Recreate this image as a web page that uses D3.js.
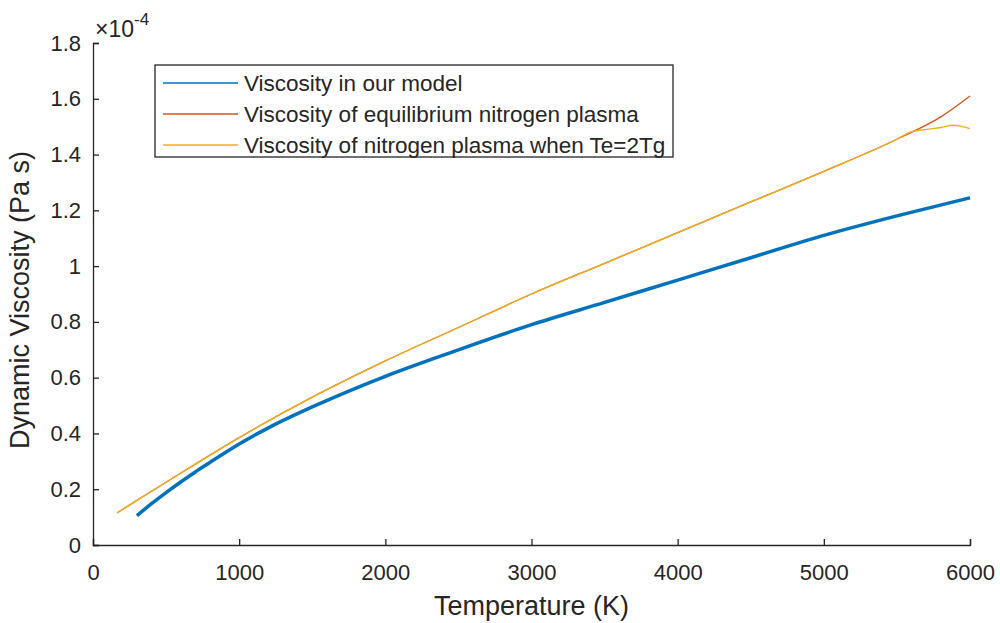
<!DOCTYPE html>
<html>
<head>
<meta charset="utf-8">
<script src="https://cdn.jsdelivr.net/npm/d3@7"></script>
<style>
  body { margin: 0; background: #fff; }
  text { font-family: "Liberation Sans", Arial, sans-serif; fill: #262626; }
</style>
</head>
<body>
<div id="chart"></div>
<script>
// values (viscosity in units of 1e-4 Pa s)
var modelT = [300, 400, 500, 600, 700, 800, 1000, 1200, 1500, 2000, 2500, 3000, 3500, 4000, 4500, 5000, 5500, 6000];
var modelV = [0.105, 0.148, 0.188, 0.226, 0.262, 0.296, 0.362, 0.42, 0.495, 0.605, 0.70, 0.79, 0.87, 0.95, 1.03, 1.11, 1.18, 1.245];

var equilT = [165, 300, 500, 700, 1000, 1500, 2000, 2500, 3000, 3500, 4000, 4500, 5000, 5500, 5800, 6000];
var equilV = [0.115, 0.16, 0.225, 0.29, 0.385, 0.53, 0.66, 0.78, 0.90, 1.01, 1.12, 1.23, 1.34, 1.455, 1.535, 1.61];

var twoTT = [165, 300, 500, 700, 1000, 1500, 2000, 2500, 3000, 3500, 4000, 4500, 5000, 5500, 5600, 5700, 5800, 5880, 5950, 6000];
var twoTV = [0.115, 0.16, 0.225, 0.29, 0.385, 0.53, 0.66, 0.78, 0.90, 1.01, 1.12, 1.23, 1.34, 1.455, 1.482, 1.49, 1.497, 1.505, 1.50, 1.493];

var seriesNames = ["Viscosity in our model", "Viscosity of equilibrium nitrogen plasma", "Viscosity of nitrogen plasma when Te=2Tg"];
var seriesColors = ["#0072BD", "#D95319", "#EDB120"];

var xTicks = [0, 1000, 2000, 3000, 4000, 5000, 6000];
var yTicks = [0, 0.2, 0.4, 0.6, 0.8, 1, 1.2, 1.4, 1.6, 1.8];

var chart_width = 1000, chart_height = 623;
var margin = {top: 43, right: 30, bottom: 78, left: 93};
var width = chart_width - margin.left - margin.right;
var height = chart_height - margin.top - margin.bottom;

var svg = d3.select("#chart").append("svg")
    .attr("width", chart_width)
    .attr("height", chart_height);

var plot = svg.append("g")
    .attr("transform", "translate(" + margin.left + "," + margin.top + ")");

var x = d3.scaleLinear().domain([0, 6000]).range([0, width]);
var y = d3.scaleLinear().domain([0, 1.8]).range([height, 0]);

function toPoints(ts, vs) {
    return ts.map(function(t, i) { return {t: t, v: vs[i]}; });
}

var line = d3.line()
    .x(function(d) { return x(d.t); })
    .y(function(d) { return y(d.v); })
    .curve(d3.curveMonotoneX);

// curves
plot.append("path")
    .datum(toPoints(modelT, modelV))
    .attr("d", line)
    .attr("fill", "none")
    .style("stroke", seriesColors[0])
    .style("stroke-width", 3.5);

plot.append("path")
    .datum(toPoints(equilT, equilV))
    .attr("d", line)
    .attr("fill", "none")
    .style("stroke", seriesColors[1])
    .style("stroke-width", 1.3);

plot.append("path")
    .datum(toPoints(twoTT, twoTV))
    .attr("d", line)
    .attr("fill", "none")
    .style("stroke", seriesColors[2])
    .style("stroke-width", 1.3);

// axes, ticks pointing inward like matlab
var xAxis = d3.axisBottom(x).tickValues(xTicks).tickSize(-6).tickPadding(19).tickFormat(d3.format("d"));
var yAxis = d3.axisLeft(y).tickValues(yTicks).tickSize(-6).tickPadding(12).tickFormat(function(d) { return d3.format("~g")(d); });

var gx = plot.append("g")
    .attr("transform", "translate(0," + height + ")")
    .call(xAxis);
var gy = plot.append("g").call(yAxis);

[gx, gy].forEach(function(g) {
    g.select(".domain").attr("stroke", "#262626").attr("stroke-width", 1.3);
    g.selectAll(".tick line").attr("stroke", "#262626").attr("stroke-width", 1.3);
    g.selectAll(".tick text")
        .style("font-family", "'Liberation Sans', Arial, sans-serif")
        .style("font-size", "22px")
        .attr("fill", "#262626");
});
gx.selectAll(".tick text").attr("dy", "0.71em");

// exponent label
var expo = svg.append("text")
    .attr("x", 95)
    .attr("y", 37)
    .style("font-size", "23px");
expo.append("tspan").text("\u00d710");
expo.append("tspan").attr("dy", -12).style("font-size", "17px").text("-4");

// axis labels
svg.append("text")
    .attr("x", margin.left + width / 2)
    .attr("y", 615)
    .attr("text-anchor", "middle")
    .style("font-size", "27px")
    .text("Temperature (K)");

svg.append("text")
    .attr("transform", "translate(29," + (margin.top + height / 2 + 6) + ") rotate(-90)")
    .attr("text-anchor", "middle")
    .style("font-size", "27px")
    .text("Dynamic Viscosity (Pa s)");

// legend
var legend = svg.append("g")
    .attr("transform", "translate(155,65)");

legend.append("rect")
    .attr("width", 518)
    .attr("height", 92)
    .attr("fill", "#fff")
    .attr("stroke", "#262626")
    .attr("stroke-width", 1.3);

seriesNames.forEach(function(name, i) {
    var ly = 18 + i * 31;
    legend.append("line")
        .attr("x1", 8).attr("x2", 83)
        .attr("y1", ly).attr("y2", ly)
        .style("stroke", seriesColors[i])
        .style("stroke-width", 1.5);
    legend.append("text")
        .attr("x", 89)
        .attr("y", ly + 8)
        .style("font-size", "22.5px")
        .text(name);
});
</script>
</body>
</html>
